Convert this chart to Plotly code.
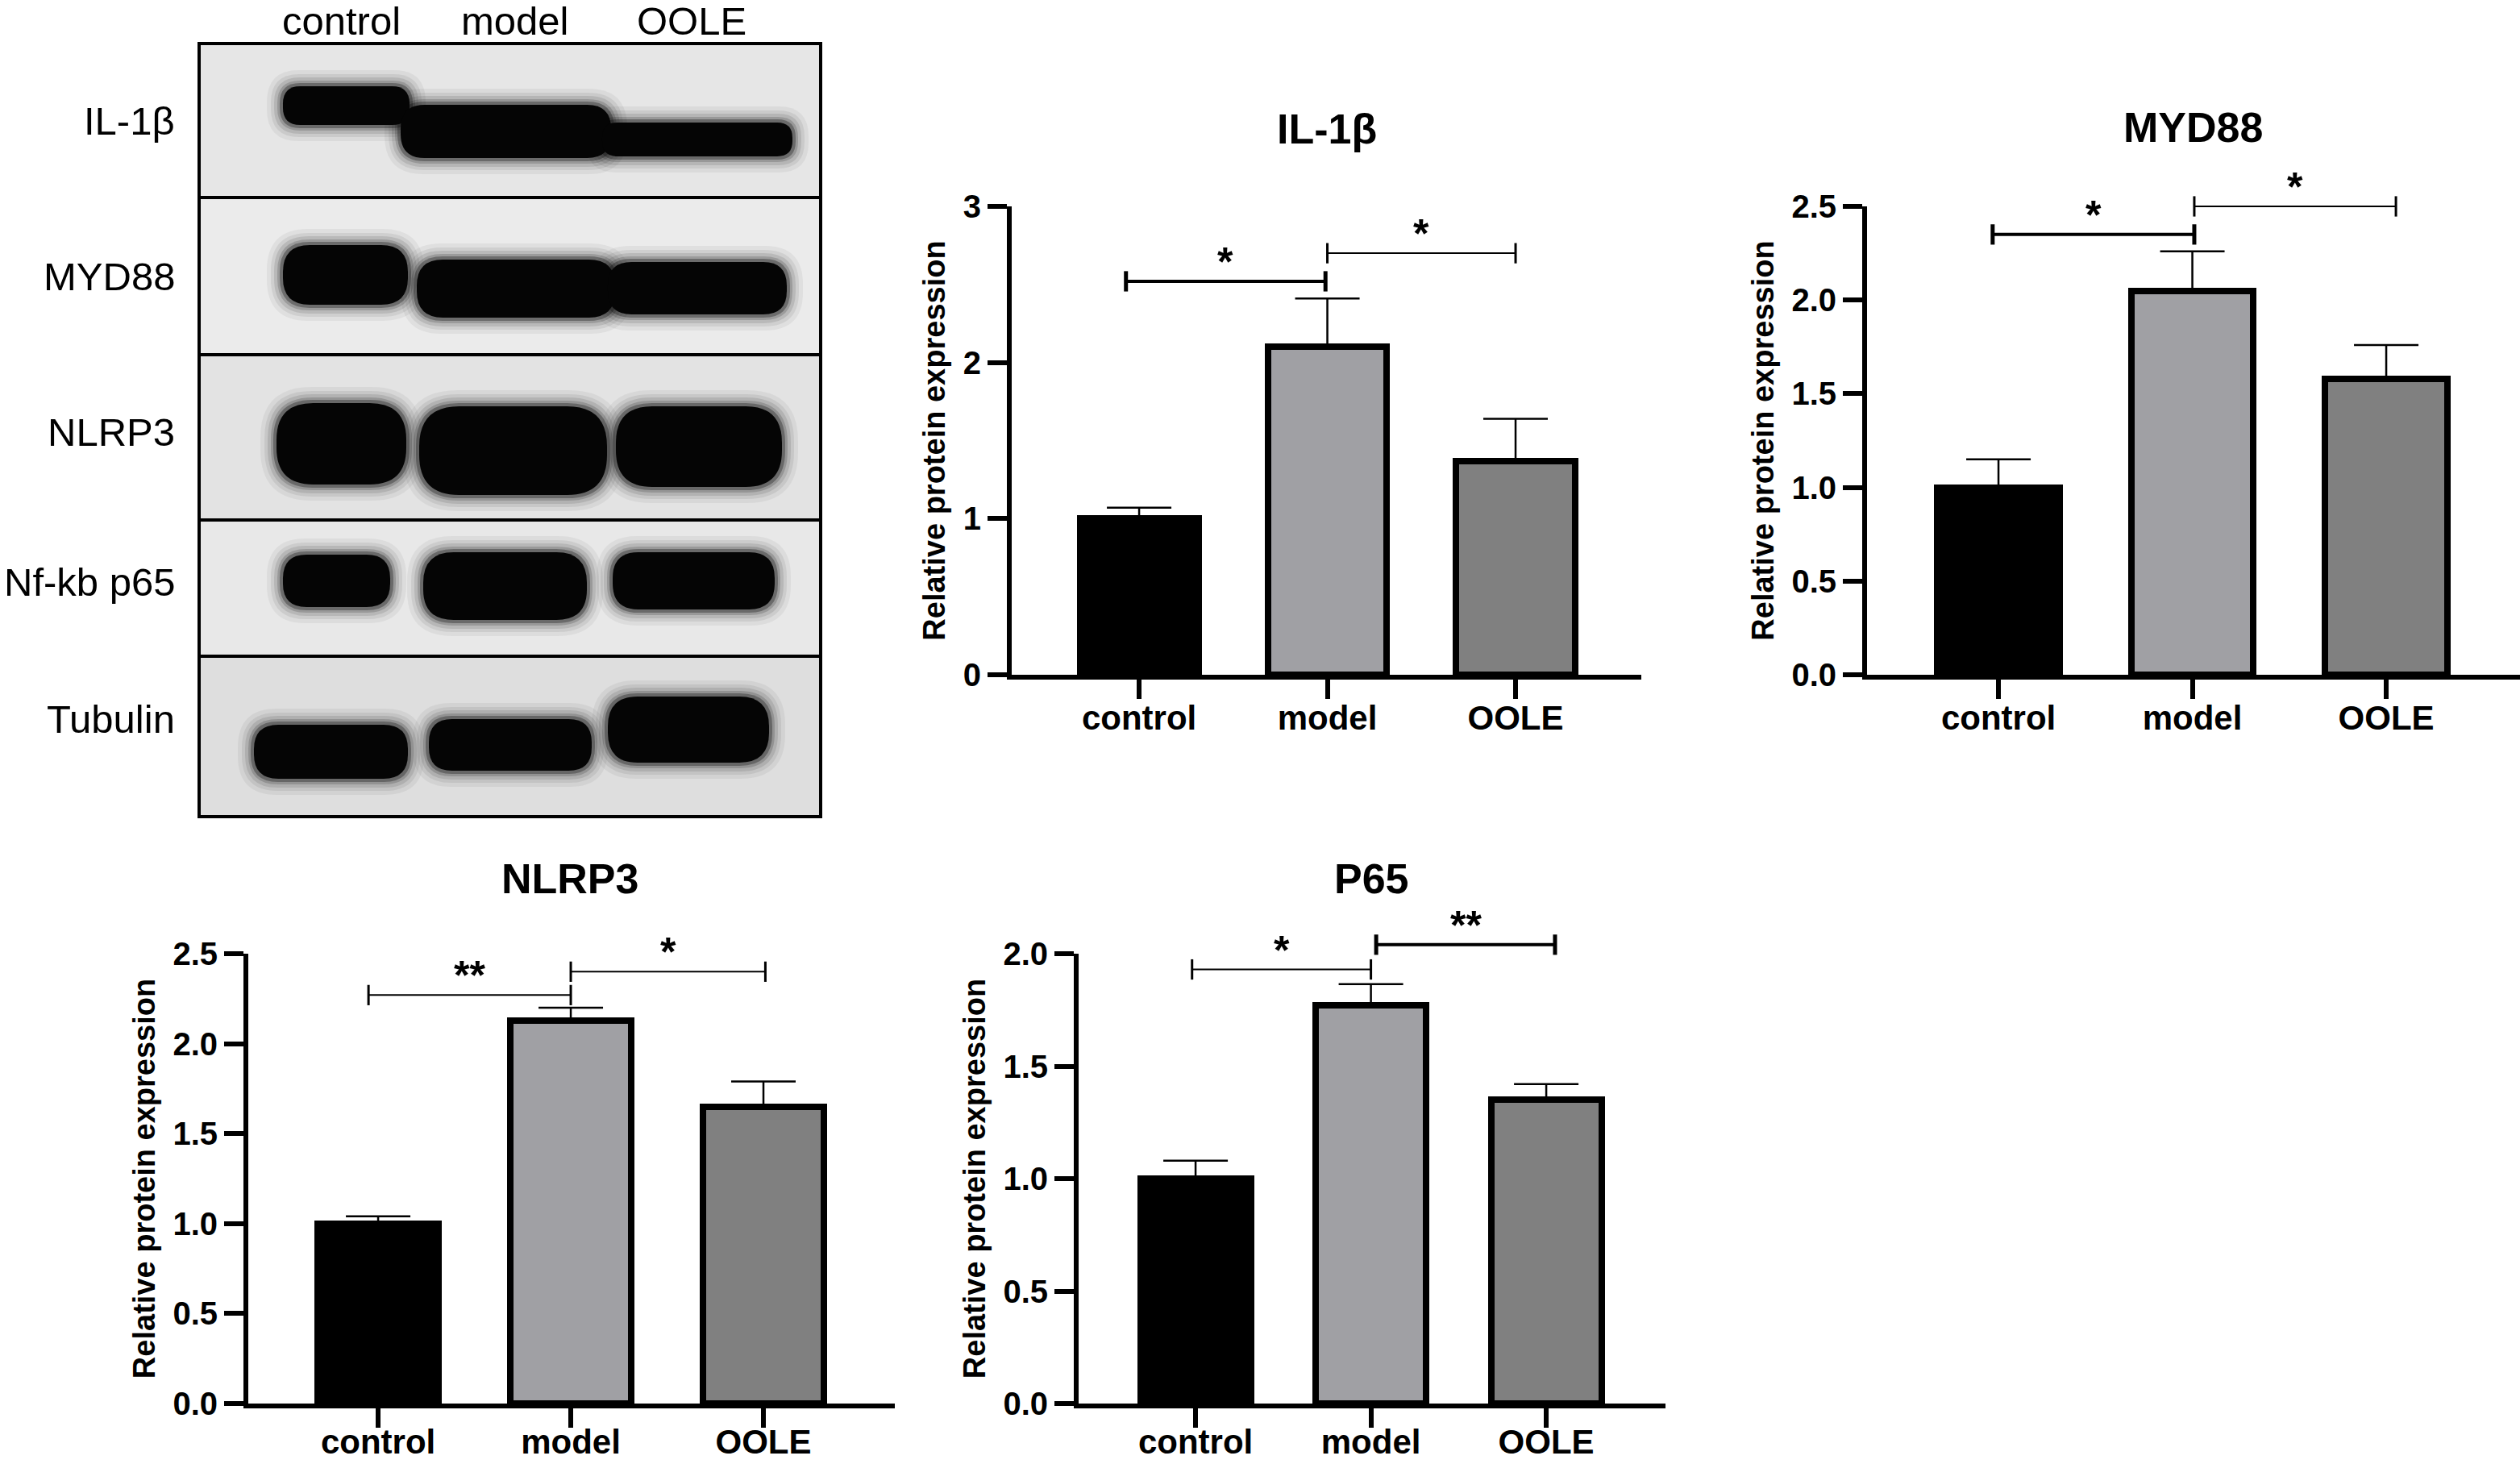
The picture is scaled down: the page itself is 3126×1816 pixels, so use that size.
import plotly.graph_objects as go

# ---- data ----
groups = ["control", "model", "OOLE"]

il1b_mean = [1.0, 2.10, 1.37]
il1b_err = [0.07, 0.31, 0.27]
il1b_sig_y = [2.52, 2.70]
il1b_sig_span = [[-0.07, 0.99], [1.0, 2.0]]
il1b_sig_text = ["*", "*"]

myd88_mean = [1.0, 2.05, 1.58]
myd88_err = [0.15, 0.21, 0.18]
myd88_sig_y = [2.35, 2.50]
myd88_sig_span = [[-0.03, 1.01], [1.01, 2.05]]
myd88_sig_text = ["*", "*"]

nlrp3_mean = [1.0, 2.13, 1.65]
nlrp3_err = [0.04, 0.07, 0.14]
nlrp3_sig_y = [2.27, 2.40]
nlrp3_sig_span = [[-0.05, 1.0], [1.0, 2.01]]
nlrp3_sig_text = ["**", "*"]

p65_mean = [1.0, 1.77, 1.35]
p65_err = [0.08, 0.095, 0.07]
p65_sig_y = [1.93, 2.04]
p65_sig_span = [[-0.02, 1.0], [1.03, 2.05]]
p65_sig_text = ["*", "**"]

blot_rows = ["IL-1β", "MYD88", "NLRP3", "Nf-kb p65", "Tubulin"]

# ---- page geometry (pixels) ----
W, H = 3126, 1816
FONT = "Liberation Sans, Arial, sans-serif"
bar_colors = ["#000000", "#a0a0a4", "#808080"]
HEADROOM = 140  # extra pixels above each plot for the brackets


def px(x):
    return x / W


def py(y):
    return 1 - y / H


panels = [
    dict(title="IL-1β", mean=il1b_mean, err=il1b_err, sig_y=il1b_sig_y,
         sig_span=il1b_sig_span, sig_text=il1b_sig_text, sig_lw=[4, 2],
         xdom=(1255, 2036), ydom=(837, 256), xrange=[-0.677, 2.668],
         ymax=3, dtick=1, fmt="d", title_xy=(1646, 160), lab_off=-12),
    dict(title="MYD88", mean=myd88_mean, err=myd88_err, sig_y=myd88_sig_y,
         sig_span=myd88_sig_span, sig_text=myd88_sig_text, sig_lw=[4, 2],
         xdom=(2316, 3126), ydom=(837, 256), xrange=[-0.678, 2.69],
         ymax=2.5, dtick=0.5, fmt=".1f", title_xy=(2720, 158), lab_off=-12),
    dict(title="NLRP3", mean=nlrp3_mean, err=nlrp3_err, sig_y=nlrp3_sig_y,
         sig_span=nlrp3_sig_span, sig_text=nlrp3_sig_text, sig_lw=[2, 2],
         xdom=(308, 1110), ydom=(1741, 1183), xrange=[-0.674, 2.682],
         ymax=2.5, dtick=0.5, fmt=".1f", title_xy=(707, 1090), lab_off=-18),
    dict(title="P65", mean=p65_mean, err=p65_err, sig_y=p65_sig_y,
         sig_span=p65_sig_span, sig_text=p65_sig_text, sig_lw=[2, 4],
         xdom=(1338, 2066), ydom=(1741, 1183), xrange=[-0.667, 2.68],
         ymax=2.0, dtick=0.5, fmt=".1f", title_xy=(1701, 1090), lab_off=-18),
]

fig = go.Figure()
annotations = []
layout_axes = {}

for i, p in enumerate(panels):
    n = "" if i == 0 else str(i + 1)
    xa, ya = "x" + n, "y" + n
    # invisible twin y axis with the same scale but more room on top,
    # so the significance brackets are not clipped
    n2 = str(i + 5)
    ya2 = "y" + n2

    fig.add_trace(go.Bar(
        x=[0, 1, 2], y=p["mean"], width=0.63,
        marker=dict(color=bar_colors, line=dict(color="black", width=8)),
        error_y=dict(type="data", symmetric=False, array=p["err"],
                     arrayminus=[0, 0, 0], color="black", thickness=2.5, width=40),
        xaxis=xa, yaxis=ya, showlegend=False, hoverinfo="skip",
    ))

    for (a, b), yb, txt, lw in zip(p["sig_span"], p["sig_y"], p["sig_text"], p["sig_lw"]):
        fig.add_trace(go.Scatter(
            x=[a, b], y=[yb, yb], mode="lines+markers",
            line=dict(color="black", width=lw),
            marker=dict(symbol="line-ns", size=18, color="black",
                        line=dict(color="black", width=lw + 1)),
            xaxis=xa, yaxis=ya2, showlegend=False, cliponaxis=False, hoverinfo="skip",
        ))
        annotations.append(dict(
            x=(a + b) / 2, y=yb, xref=xa, yref=ya2, text=txt, showarrow=False,
            yanchor="bottom", yshift=-6,
            font=dict(family=FONT, size=50, color="black", weight="bold"),
        ))

    annotations.append(dict(
        x=px(p["title_xy"][0]), y=py(p["title_xy"][1]), xref="paper", yref="paper",
        text=p["title"], showarrow=False, xanchor="center", yanchor="middle",
        font=dict(family=FONT, size=52, color="black", weight="bold"),
    ))

    bottom, top = p["ydom"]
    ymax2 = p["ymax"] * (bottom - (top - HEADROOM)) / (bottom - top)

    layout_axes["xaxis" + n] = dict(
        domain=[px(p["xdom"][0]), px(p["xdom"][1])], range=p["xrange"], anchor=ya,
        tickvals=[0, 1, 2], ticktext=groups, showline=True, linewidth=6,
        linecolor="black", ticks="outside", ticklen=24, tickwidth=6,
        tickcolor="black", showgrid=False, zeroline=False, fixedrange=True,
        automargin=False, ticklabelstandoff=p["lab_off"],
        tickfont=dict(family=FONT, size=42, color="black", weight="bold"),
    )
    layout_axes["yaxis" + n] = dict(
        domain=[py(bottom), py(top)], range=[0, p["ymax"]], anchor=xa,
        dtick=p["dtick"], tick0=0, tickformat=p["fmt"], showline=True, linewidth=6,
        linecolor="black", ticks="outside", ticklen=24, tickwidth=6,
        tickcolor="black", showgrid=False, zeroline=False, fixedrange=True,
        automargin=False,
        tickfont=dict(family=FONT, size=40, color="black", weight="bold"),
        title=dict(text="Relative protein expression", standoff=12,
                   font=dict(family=FONT, size=38, color="black", weight="bold")),
    )
    layout_axes["yaxis" + n2] = dict(
        domain=[py(bottom), py(top - HEADROOM)], range=[0, ymax2], anchor=xa,
        visible=False, showgrid=False, zeroline=False, fixedrange=True,
        automargin=False,
    )

# ---- western blot panel drawn with shapes ----
shapes = []
blot_x = (247, 1018)
row_edges = [54, 245, 440, 645, 814, 1013]
row_fill = ["#e6e6e6", "#ebebeb", "#e3e3e3", "#e8e8e8", "#dedede"]
bands = [
    [(349, 105, 510, 157), (495, 128, 760, 198), (745, 150, 985, 196)],
    [(349, 302, 508, 380), (515, 320, 765, 396), (752, 323, 978, 392)],
    [(341, 498, 506, 603), (518, 502, 755, 616), (762, 502, 972, 606)],
    [(349, 686, 486, 755), (523, 683, 730, 771), (758, 683, 963, 758)],
    [(313, 897, 508, 968), (530, 890, 736, 958), (752, 862, 956, 948)],
]


def pill(x0, y0, x1, y1, pad=0):
    x0, y0, x1, y1 = x0 - pad, y0 - pad, x1 + pad, y1 + pad
    r = 0.45 * (y1 - y0)
    pts = [
        ("M", x0 + r, y0), ("L", x1 - r, y0), ("Q", x1, y0, x1, y0 + r),
        ("L", x1, y1 - r), ("Q", x1, y1, x1 - r, y1), ("L", x0 + r, y1),
        ("Q", x0, y1, x0, y1 - r), ("L", x0, y0 + r), ("Q", x0, y0, x0 + r, y0),
    ]
    out = []
    for cmd, *c in pts:
        xy = " ".join(f"{px(c[k]):.5f},{py(c[k + 1]):.5f}" for k in range(0, len(c), 2))
        out.append(f"{cmd} {xy}")
    return " ".join(out) + " Z"


for k in range(5):
    shapes.append(dict(type="rect", xref="paper", yref="paper",
                       x0=px(blot_x[0]), x1=px(blot_x[1]),
                       y0=py(row_edges[k + 1]), y1=py(row_edges[k]),
                       fillcolor=row_fill[k], line=dict(color="black", width=4),
                       layer="below"))
# soft edges: stacked translucent halos, then the dark core
halo = [(18, "rgba(0,0,0,0.05)"), (13, "rgba(0,0,0,0.07)"), (9, "rgba(0,0,0,0.10)"),
        (5, "rgba(0,0,0,0.16)"), (2, "rgba(0,0,0,0.3)"), (-2, "#050505")]
for row in bands:
    for pad, col in halo:
        for b in row:
            shapes.append(dict(type="path", xref="paper", yref="paper",
                               path=pill(*b, pad=pad), fillcolor=col,
                               line=dict(width=0), layer="below"))

lane_x = [424, 638, 858]
for g, lx in zip(groups, lane_x):
    annotations.append(dict(x=px(lx), y=py(26), xref="paper", yref="paper", text=g,
                            showarrow=False, xanchor="center", yanchor="middle",
                            font=dict(family=FONT, size=49, color="black")))
row_y = [150, 343, 536, 722, 892]
for lab, ry in zip(blot_rows, row_y):
    annotations.append(dict(x=px(219), y=py(ry), xref="paper", yref="paper", text=lab,
                            showarrow=False, xanchor="right", yanchor="middle",
                            font=dict(family=FONT, size=49, color="black")))

fig.update_layout(
    width=W, height=H, margin=dict(l=0, r=0, t=0, b=0),
    paper_bgcolor="white", plot_bgcolor="rgba(0,0,0,0)",
    bargap=0, annotations=annotations, shapes=shapes,
    **layout_axes,
)

fig.write_html("out.html", config={"displayModeBar": False},
               post_script="document.body.style.margin='0';")
